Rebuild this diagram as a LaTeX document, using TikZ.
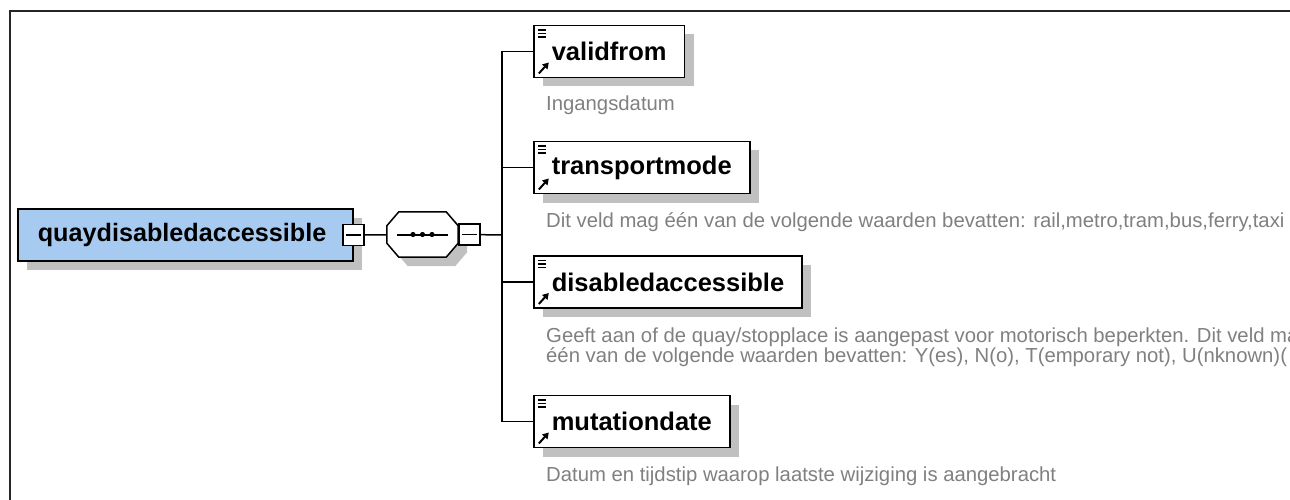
\documentclass[tikz,border=0pt]{standalone}
\usepackage{fontspec}
\setmainfont{Liberation Sans}
\usetikzlibrary{shadows,arrows.meta}
\definecolor{rootblue}{RGB}{166,202,240}
\definecolor{docgray}{RGB}{128,128,128}
\definecolor{shadegray}{RGB}{192,192,192}
\begin{document}
\begin{tikzpicture}[x=1pt,y=-1pt]
    \tikzstyle{every node}+=[inner sep=0pt]
    \tikzstyle{shade}=[drop shadow={shadow xshift=9pt,shadow yshift=-9pt,fill=shadegray,opacity=1}]
    \tikzstyle{rootbox}=[draw=black,line width=1.6pt,fill=rootblue,shade,anchor=west,minimum height=52pt,text width=295pt,align=left,inner xsep=20pt,font=\fontsize{25.2}{28}\selectfont\bfseries]
    \tikzstyle{elem}=[draw=black,line width=1.6pt,fill=white,shade,anchor=west,minimum height=52pt,inner xsep=18pt,font=\fontsize{25.5}{28}\selectfont\bfseries,
      path picture={
        \foreach \dy in {4.5,8,11.5}
          \draw [black,line width=1.3pt] ([shift={(4pt,-\dy pt)}]path picture bounding box.north west) -- ++(8.5pt,0pt);
        \draw [black,line width=2pt,-{Triangle[length=6pt,width=7pt]}] ([shift={(5pt,4pt)}]path picture bounding box.south west) -- ++(10pt,11pt);
      }]
    \tikzstyle{minusbox}=[draw=black,line width=1.4pt,fill=white,minimum size=21pt,
      path picture={\draw [black,line width=1.4pt] ([xshift=3pt]path picture bounding box.west) -- ([xshift=-3pt]path picture bounding box.east);}]
    \tikzstyle{seqbox}=[minimum width=71pt,minimum height=45pt]
    \tikzstyle{link}=[black,line width=1.5pt]
    \tikzstyle{doc}=[anchor=base west,text=docgray,font=\fontsize{20.3}{19}\selectfont]
    \clip (0,0) rectangle (1290,500);
    \useasboundingbox (0,0) rectangle (1290,500);
    \draw [black!85,line width=2pt] (10,500) -- (10,11) -- (1290,11);
    \node [rootbox] (root) at (17,235) {quaydisabledaccessible};
    \node [minusbox] (m1) at (root.east) {};
    \node [seqbox] (seq) at (422.5,234.5) {};
    \draw [black,line width=1.5pt,fill=white,shade] ([xshift=12pt]seq.north west) -- ([xshift=-12pt]seq.north east) -- ([yshift=-14pt]seq.north east) -- ([yshift=14pt]seq.south east) -- ([xshift=-12pt]seq.south east) -- ([xshift=12pt]seq.south west) -- ([yshift=14pt]seq.south west) -- ([yshift=-14pt]seq.north west) -- cycle;
    \draw [black,line width=2pt] ([xshift=-25.5pt]seq.center) -- ([xshift=25.5pt]seq.center);
    \foreach \dx in {-9.5,0,9.5}
      \fill [black] ([xshift=\dx pt]seq.center) circle (2.6pt);
    \node [minusbox,anchor=west] (m2) at (seq.east) {};
    \coordinate (fork) at (502,235);
    \node [elem] (validfrom) at (533,51.5) {validfrom};
    \node [elem] (transportmode) at (533,167.5) {transportmode};
    \node [elem] (disabledaccessible) at (533,282) {disabledaccessible};
    \node [elem] (mutationdate) at (533,421.5) {mutationdate};
    \node [doc] (validfromdoc) at ([shift={(13pt,-32pt)}]validfrom.south west) {Ingangsdatum};
    \node [doc] (transportmodedoc) at ([shift={(13pt,-33pt)}]transportmode.south west) {Dit veld mag één van de volgende waarden bevatten: rail,metro,tram,bus,ferry,taxi};
    \node [doc,align=left] (disabledaccessibledoc) at ([shift={(13pt,-54pt)}]disabledaccessible.south west) {Geeft aan of de quay/stopplace is aangepast voor motorisch beperkten. Dit veld mag\\één van de volgende waarden bevatten: Y(es), N(o), T(emporary not), U(nknown)(};
    \node [doc] (mutationdatedoc) at ([shift={(13pt,-33pt)}]mutationdate.south west) {Datum en tijdstip waarop laatste wijziging is aangebracht};
    \draw [link] (m1) -- (seq);
    \draw [link] (m2) -- (fork);
    \draw [link] (fork |- validfrom.west) -- (fork |- mutationdate.west);
    \draw [link] (fork |- validfrom.west) -- (validfrom.west);
    \draw [link] (fork |- transportmode.west) -- (transportmode.west);
    \draw [link] (fork |- disabledaccessible.west) -- (disabledaccessible.west);
    \draw [link] (fork |- mutationdate.west) -- (mutationdate.west);
    \end{tikzpicture}
\end{document}
